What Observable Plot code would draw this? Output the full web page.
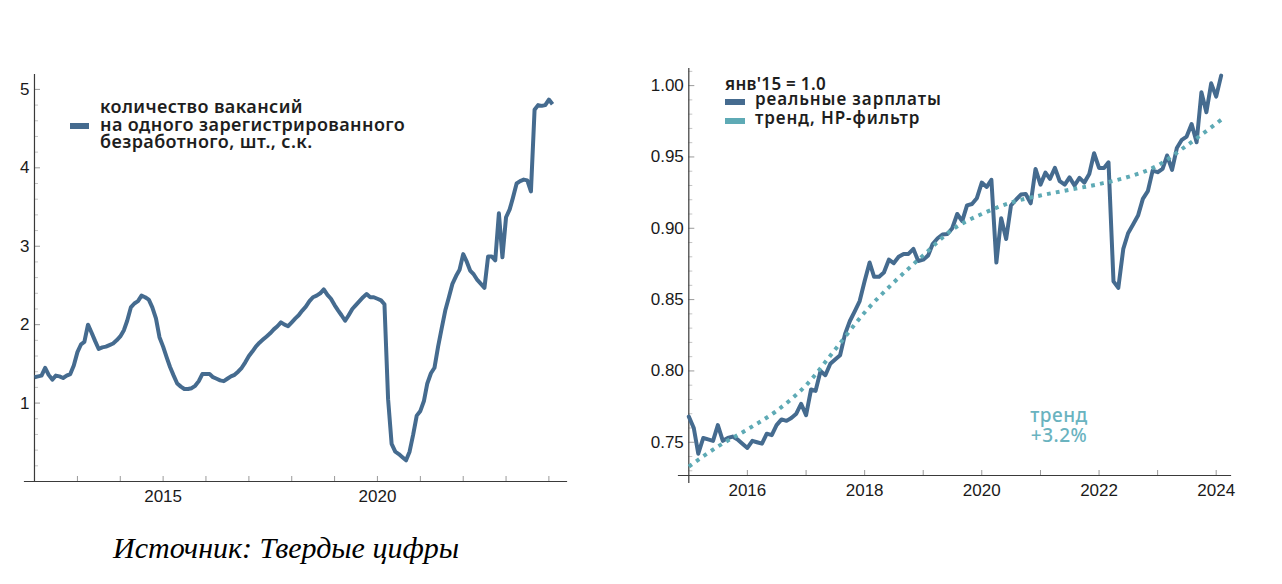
<!DOCTYPE html>
<html>
<head>
<meta charset="utf-8">
<script src="https://cdn.jsdelivr.net/npm/d3@7"></script>
<script src="https://cdn.jsdelivr.net/npm/@observablehq/plot@0.6"></script>
<style>
  html, body { margin: 0; padding: 0; background: #fff; }
  body { width: 1282px; height: 584px; position: relative; overflow: hidden; font-family: "Liberation Sans", Arial, sans-serif; }
  #left, #right { position: absolute; top: 0; }
  #left { left: 0; }
  #right { left: 620px; }
  .leg { position: absolute; font-family: "Noto Sans", sans-serif; font-weight: 600; color: #1e1e1e; white-space: nowrap; }
  .sw { position: absolute; }
  .note { position: absolute; font-family: "Noto Sans", sans-serif; font-weight: 500; color: #6ab3bf; text-align: center; white-space: nowrap; letter-spacing: 0.5px; }
  .cap { position: absolute; font-family: "Liberation Serif", "Times New Roman", serif; font-style: italic; color: #000; white-space: nowrap; }
</style>
</head>
<body>
<div id="left"></div>
<div id="right"></div>

<!-- left legend -->
<div class="sw" style="left:70px;top:123px;width:19px;height:6px;background:#456b8f"></div>
<div class="leg" style="left:100px;top:98.3px;font-size:18px;line-height:17px;letter-spacing:0.4px">количество вакансий</div>
<div class="leg" style="left:100px;top:115.5px;font-size:18px;line-height:17px;letter-spacing:0.4px">на одного зарегистрированного</div>
<div class="leg" style="left:100px;top:133px;font-size:18px;line-height:17px;letter-spacing:0.4px">безработного, шт., с.к.</div>

<!-- right legend -->
<div class="leg" style="left:725px;top:75.6px;font-size:17px;line-height:15px;letter-spacing:0.3px">янв'15 = 1.0</div>
<div class="sw" style="left:725px;top:99px;width:20px;height:6px;background:#456b8f"></div>
<div class="leg" style="left:755px;top:90.9px;font-size:17px;line-height:15px;letter-spacing:0.9px">реальные зарплаты</div>
<div class="sw" style="left:725px;top:117.5px;width:20px;height:6px;background:#5eaab5"></div>
<div class="leg" style="left:755px;top:109.9px;font-size:17px;line-height:15px;letter-spacing:0.9px">тренд, HP-фильтр</div>

<!-- annotation -->
<div class="note" style="left:1009px;width:100px;top:405.8px;font-size:19px;line-height:19px">тренд</div>
<div class="note" style="left:1009px;width:100px;top:425.8px;font-size:19px;line-height:19px">+3.2%</div>

<!-- caption -->
<div class="cap" style="left:113px;top:533px;font-size:30px;line-height:30px">Источник: Твердые цифры</div>

<script>
// ---------------- DATA ----------------
// Vacancies per one registered unemployed, monthly, s.a., from Jan 2012
const vacancyStart = "2012-01";
const vacancyRatio = [
  1.33, 1.34, 1.35, 1.45, 1.36, 1.30, 1.35, 1.34, 1.32, 1.35, 1.37, 1.48, // 2012
  1.65, 1.75, 1.78, 2.00, 1.90, 1.79, 1.69, 1.71, 1.72, 1.74, 1.76, 1.80, // 2013
  1.85, 1.93, 2.05, 2.22, 2.27, 2.30, 2.37, 2.35, 2.32, 2.22, 2.08, 1.84, // 2014
  1.72, 1.58, 1.46, 1.35, 1.25, 1.21, 1.18, 1.18, 1.19, 1.22, 1.28, 1.37, // 2015
  1.37, 1.37, 1.33, 1.31, 1.29, 1.28, 1.31, 1.34, 1.36, 1.40, 1.45, 1.52, // 2016
  1.60, 1.66, 1.72, 1.77, 1.81, 1.85, 1.89, 1.94, 1.98, 2.03, 2.00, 1.98, // 2017
  2.03, 2.08, 2.12, 2.18, 2.23, 2.30, 2.35, 2.37, 2.40, 2.45, 2.38, 2.33, // 2018
  2.25, 2.18, 2.12, 2.05, 2.12, 2.20, 2.25, 2.30, 2.35, 2.39, 2.35, 2.35, // 2019
  2.33, 2.31, 2.26, 1.05, 0.48, 0.38, 0.35, 0.31, 0.27, 0.38, 0.60, 0.84, // 2020
  0.90, 1.03, 1.25, 1.38, 1.45, 1.72, 1.95, 2.18, 2.35, 2.52, 2.62, 2.70, // 2021
  2.90, 2.80, 2.69, 2.64, 2.57, 2.52, 2.47, 2.87, 2.87, 2.82, 3.42, 2.86, // 2022
  3.37, 3.47, 3.62, 3.80, 3.83, 3.85, 3.84, 3.70, 4.74, 4.80, 4.79, 4.80, // 2023
  4.87, 4.81                                                              // 2024
];

// Real wages, monthly from Jan 2015
const wageStart = "2015-01";
const realWages = [
  0.768, 0.760, 0.742, 0.753, 0.752, 0.751, 0.762, 0.751, 0.753, 0.754, 0.752, 0.749, // 2015
  0.746, 0.751, 0.750, 0.749, 0.756, 0.755, 0.762, 0.766, 0.765, 0.767, 0.770, 0.777, // 2016
  0.769, 0.787, 0.786, 0.800, 0.797, 0.805, 0.808, 0.811, 0.826, 0.835, 0.842, 0.849, // 2017
  0.863, 0.876, 0.866, 0.866, 0.869, 0.878, 0.8755, 0.880, 0.882, 0.882, 0.8855, 0.877, // 2018
  0.878, 0.881, 0.889, 0.893, 0.8956, 0.896, 0.900, 0.910, 0.905, 0.916, 0.917, 0.921, // 2019
  0.932, 0.929, 0.934, 0.876, 0.907, 0.8925, 0.916, 0.920, 0.9236, 0.924, 0.9175, 0.9416, // 2020
  0.9306, 0.939, 0.9346, 0.9423, 0.933, 0.9306, 0.9357, 0.930, 0.9353, 0.932, 0.938, 0.9526, // 2021
  0.9423, 0.9423, 0.9462, 0.8628, 0.8582, 0.8855, 0.8965, 0.9026, 0.9089, 0.9206, 0.926, 0.9404, // 2022
  0.9393, 0.9416, 0.951, 0.9409, 0.9563, 0.962, 0.9643, 0.9731, 0.9603, 0.9953, 0.9813, 1.0016, // 2023
  0.9923, 1.007                                                                             // 2024
];

// HP-filter trend (read at half-year points)
const trendMonths = ["2015-01","2015-07","2016-01","2016-07","2017-01","2017-07","2018-01","2018-07",
                     "2019-01","2019-07","2020-01","2020-07","2021-01","2021-07","2022-01","2022-07",
                     "2023-01","2023-07","2024-02"];
const trendValues = [0.733, 0.747, 0.759, 0.772, 0.790, 0.815, 0.841, 0.862,
                     0.881, 0.899, 0.910, 0.918, 0.923, 0.927, 0.931, 0.936,
                     0.944, 0.958, 0.976];

// tick labels
const leftYLabels = [1, 2, 3, 4, 5];
const leftXLabels = [2015, 2020];
const leftXTickYears = [2013, 2014, 2015, 2016, 2017, 2018, 2019, 2020, 2021, 2022, 2023, 2024];
const rightYLabels = [0.75, 0.80, 0.85, 0.90, 0.95, 1.00];
const rightXLabels = [2016, 2018, 2020, 2022, 2024];
const rightXTickYears = [2016, 2017, 2018, 2019, 2020, 2021, 2022, 2023, 2024];

// ---------------- HELPERS ----------------
function monthly(start, values) {
  const [y, m] = start.split("-").map(Number);
  return values.map((v, i) => ({date: new Date(Date.UTC(y, m - 1 + i, 1)), value: v}));
}
function ym(s) { const [y, m] = s.split("-").map(Number); return new Date(Date.UTC(y, m - 1, 1)); }
function yearDate(y) { return new Date(Date.UTC(y, 0, 1)); }
function decYear(yf) {
  const y = Math.floor(yf), a = Date.UTC(y, 0, 1), b = Date.UTC(y + 1, 0, 1);
  return new Date(a + (yf - y) * (b - a));
}

const vac = monthly(vacancyStart, vacancyRatio);
const wages = monthly(wageStart, realWages);
const trend = trendMonths.map((m, i) => ({date: ym(m), value: trendValues[i]}));

const BLUE = "#456b8f";
const TEAL = "#5eaab5";
const AXIS = "#3a3a3a";
const TICK = "#9a9a9a";
const MINOR = "#c4c4c4";
const LABEL = "#1a1a1a";
const FS = 17;

// ---------------- LEFT CHART ----------------
{
  const W = 600, H = 520, mL = 24, mR = 34, mT = 74, mB = 39;
  const fw = W - mL - mR, fh = H - mT - mB;
  const yAxisOff = 10;
  const minorY = d3.range(0.2, 5.19, 0.2).map(v => +v.toFixed(1)).filter(v => Math.abs(v - Math.round(v)) > 1e-6);
  const chart = Plot.plot({
    width: W, height: H,
    marginLeft: mL, marginRight: mR, marginTop: mT, marginBottom: mB,
    style: {fontFamily: "'Liberation Sans', Arial, sans-serif", background: "transparent", overflow: "visible"},
    x: {type: "utc", domain: [decYear(2011.767), decYear(2024.41)], axis: null},
    y: {domain: [0, 5.19], axis: null},
    marks: [
      Plot.tickY(minorY, {y: d => d, stroke: MINOR, strokeWidth: 1, insetLeft: yAxisOff, insetRight: fw - yAxisOff - 4}),
      Plot.tickY(leftYLabels, {y: d => d, stroke: TICK, strokeWidth: 1, insetLeft: yAxisOff, insetRight: fw - yAxisOff - 6}),
      Plot.tickX(leftXTickYears.map(yearDate), {x: d => d, stroke: TICK, strokeWidth: 1, insetTop: fh - 5}),
      Plot.ruleX([vac[0].date], {stroke: AXIS, strokeWidth: 1.2}),
      Plot.frame({anchor: "bottom", stroke: AXIS, strokeWidth: 1.2}),
      Plot.text(leftYLabels, {y: d => d, text: d => String(d), frameAnchor: "left", textAnchor: "end", dx: yAxisOff - 5, fontSize: FS, fill: LABEL}),
      Plot.text(leftXLabels.map(yearDate), {x: d => d, text: d => String(d.getUTCFullYear()), frameAnchor: "bottom", lineAnchor: "top", dy: 8.5, fontSize: FS, fill: LABEL}),
      Plot.line(vac, {x: "date", y: "value", stroke: BLUE, strokeWidth: 4, strokeLinejoin: "round", strokeLinecap: "butt"})
    ]
  });
  document.getElementById("left").appendChild(chart);
}

// ---------------- RIGHT CHART ----------------
{
  const W = 640, H = 520, mL = 58, mR = 30, mT = 68, mB = 45;
  const fw = W - mL - mR, fh = H - mT - mB;
  const yAxisOff = 10.3;
  const minorY = d3.range(73, 102, 1).map(v => v / 100).filter(v => Math.abs(v * 20 - Math.round(v * 20)) > 1e-6);
  const chart = Plot.plot({
    width: W, height: H,
    marginLeft: mL, marginRight: mR, marginTop: mT, marginBottom: mB,
    style: {fontFamily: "'Liberation Sans', Arial, sans-serif", background: "transparent", overflow: "visible"},
    x: {type: "utc", domain: [decYear(2014.824), decYear(2024.244)], axis: null},
    y: {domain: [0.7267, 1.012], axis: null},
    marks: [
      Plot.tickY(minorY, {y: d => d, stroke: MINOR, strokeWidth: 1, insetLeft: yAxisOff, insetRight: fw - yAxisOff - 4}),
      Plot.tickY(rightYLabels, {y: d => d, stroke: TICK, strokeWidth: 1, insetLeft: yAxisOff, insetRight: fw - yAxisOff - 6}),
      Plot.tickX(rightXTickYears.map(yearDate), {x: d => d, stroke: TICK, strokeWidth: 1, insetTop: fh - 5}),
      Plot.ruleX([wages[0].date], {stroke: AXIS, strokeWidth: 1.2, insetBottom: -8}),
      Plot.frame({anchor: "bottom", stroke: AXIS, strokeWidth: 1.2}),
      Plot.text(rightYLabels, {y: d => d, text: d => d.toFixed(2), frameAnchor: "left", textAnchor: "end", dx: yAxisOff - 5, fontSize: FS, fill: LABEL}),
      Plot.text(rightXLabels.map(yearDate), {x: d => d, text: d => String(d.getUTCFullYear()), frameAnchor: "bottom", lineAnchor: "top", dy: 8, fontSize: FS, fill: LABEL}),
      Plot.line(wages, {x: "date", y: "value", stroke: BLUE, strokeWidth: 4, strokeLinejoin: "round"}),
      Plot.line(trend, {x: "date", y: "value", stroke: TEAL, strokeWidth: 4, strokeDasharray: "3.8,5.2", strokeLinecap: "butt", curve: "monotone-x"})
    ]
  });
  document.getElementById("right").appendChild(chart);
}
</script>
</body>
</html>
